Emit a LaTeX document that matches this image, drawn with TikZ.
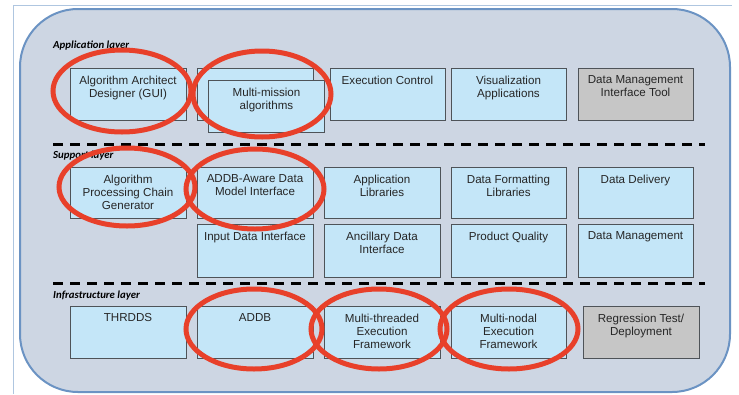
\documentclass[tikz,border=0pt]{standalone}
\usepackage{fontspec}
\setmainfont{Liberation Sans}
\newfontfamily\layerfont{Carlito}
\usetikzlibrary{shapes.geometric}

\definecolor{panelfill}{HTML}{CDD6E3}
\definecolor{panelline}{HTML}{6B93C3}
\definecolor{boxblue}{HTML}{C4E6F8}
\definecolor{boxgray}{HTML}{C6C6C6}
\definecolor{boxline}{HTML}{4E5358}
\definecolor{ringred}{HTML}{E8402A}
\definecolor{frameline}{HTML}{AFC6E0}

\tikzset{
  box/.style={draw=boxline, line width=0.9pt, fill=boxblue, minimum width=116pt,
    minimum height=52pt, inner sep=0pt},
  graybox/.style={box, fill=boxgray},
  boxtext/.style={anchor=north, align=center, inner sep=0pt,
    font=\fontsize{11.6}{13}\selectfont, text=black!85},
  layertitle/.style={anchor=west, inner sep=0pt,
    font=\layerfont\bfseries\itshape\fontsize{10.8}{12}\selectfont},
  divider/.style={line width=3pt, dash pattern=on 10pt off 7pt},
  ring/.style={draw=ringred, line width=5pt, ellipse, inner sep=0pt}
}

% box with its caption set near the top edge
\newcommand\unitbox[5]{% name, x, y, style, caption
  \node[#4] (#1) at (#2,#3) {};
  \node[boxtext] (#1-t) at ([yshift=-8pt]#1.north) {#5};
}

\begin{document}
\begin{tikzpicture}[x=1pt, y=-1pt]
  \useasboundingbox (0,0) rectangle (739,394);

  % screenshot frame lines
  \coordinate (ftl) at (13,5);
  \coordinate (ftr) at (732,5);
  \coordinate (fbl) at (13,394);
  \draw[frameline, line width=0.8pt] (fbl) -- (ftl) -- (ftr);

  % panel
  \draw[panelline, fill=panelfill, line width=2pt, rounded corners=58pt]
    (20,9) rectangle (730,392);

  % layer titles
  \node[layertitle] (lapp) at (53,46) {Application layer};
  \node[layertitle] (lsup) at (53,156) {Support layer};
  \node[layertitle] (linf) at (53,296) {Infrastructure layer};

  % dividers
  \coordinate (d1a) at (53,144);  \coordinate (d1b) at (705,144);
  \coordinate (d2a) at (53,283);  \coordinate (d2b) at (705,283);
  \draw[divider] (d1a) -- (d1b);
  \draw[divider] (d2a) -- (d2b);

  % application layer
  \unitbox{aad}{128}{94}{box}{Algorithm Architect\\Designer (GUI)}
  \node[box] (mmb) at (255,94) {};
  \unitbox{mm}{266.5}{106}{box}{Multi-mission\\algorithms}
  \unitbox{ec}{387.5}{94}{box, minimum width=115pt}{Execution Control}
  \unitbox{va}{508.5}{94}{box, minimum width=115pt}{Visualization\\Applications}
  \unitbox{dmi}{635.5}{94}{graybox, minimum width=115pt}{Data Management\\Interface Tool}

  % support layer
  \unitbox{apc}{128}{192.5}{box, minimum height=51pt}{Algorithm\\Processing Chain\\Generator}
  \unitbox{ada}{255}{192.5}{box, minimum height=51pt}{ADDB-Aware Data\\Model Interface}
  \unitbox{al}{382}{192.5}{box, minimum height=51pt}{Application\\Libraries}
  \unitbox{dfl}{508.5}{192.5}{box, minimum height=51pt, minimum width=115pt}{Data Formatting\\Libraries}
  \unitbox{dd}{635.5}{192.5}{box, minimum height=51pt, minimum width=115pt}{Data Delivery}

  \unitbox{idi}{255}{250.5}{box, minimum height=53pt}{Input Data Interface}
  \unitbox{adi}{382}{250.5}{box, minimum height=53pt}{Ancillary Data\\Interface}
  \unitbox{pq}{508.5}{250.5}{box, minimum height=53pt, minimum width=115pt}{Product Quality}
  \unitbox{dm}{635.5}{250.5}{box, minimum height=53pt, minimum width=115pt}{Data Management}

  % infrastructure layer
  \unitbox{thr}{128}{332}{box}{THRDDS}
  \unitbox{addb}{255}{332}{box}{ADDB}
  \unitbox{mte}{382}{332}{box}{Multi-threaded\\Execution\\Framework}
  \unitbox{mne}{508.5}{332}{box, minimum width=115pt}{Multi-nodal\\Execution\\Framework}
  \unitbox{rtd}{641}{332}{graybox}{Regression Test/\\Deployment}

  % highlight rings
  \node[ring, minimum width=138pt, minimum height=82pt] (r1) at (122,91) {};
  \node[ring, minimum width=138pt, minimum height=86pt] (r2) at (262,94) {};
  \node[ring, minimum width=136pt, minimum height=78pt] (r3) at (127,187) {};
  \node[ring, minimum width=138pt, minimum height=80pt] (r4) at (255,189) {};
  \node[ring, minimum width=136pt, minimum height=80pt] (r5) at (254,329) {};
  \node[ring, minimum width=136pt, minimum height=80pt] (r6) at (379,329) {};
  \node[ring, minimum width=138pt, minimum height=80pt] (r7) at (509,329) {};
\end{tikzpicture}
\end{document}
